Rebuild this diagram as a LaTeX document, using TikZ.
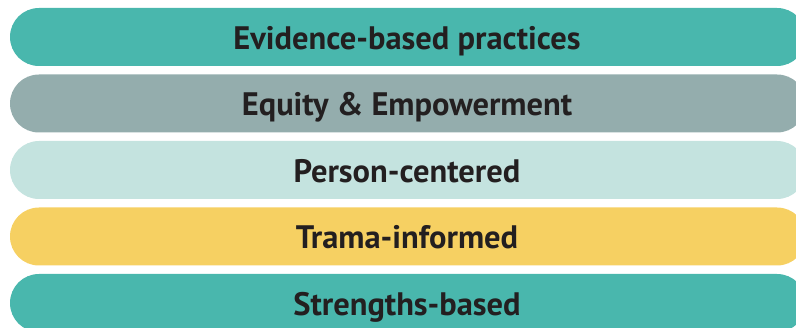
\documentclass[tikz,border=0pt]{standalone}
\usepackage{fontspec}
\setmainfont{PT Sans}
\definecolor{tealbar}{HTML}{49B7AD}
\definecolor{graybar}{HTML}{94ADAD}
\definecolor{mintbar}{HTML}{C4E3DF}
\definecolor{yellowbar}{HTML}{F6D062}
\definecolor{labeltext}{HTML}{231F20}
\begin{document}
\begin{tikzpicture}[x=1pt,y=-1pt,
  pill/.style={rounded corners=28.9pt},
  barlabel/.style={text=labeltext,font=\fontsize{32.5}{36}\selectfont\bfseries,inner sep=0pt,anchor=base}]
\useasboundingbox (0,0) rectangle (796,328);
\clip (0,0) rectangle (796,328);
% five stacked pill-shaped bars, the right ends run past the edge
\foreach \top/\col/\name in {8/tealbar/b1,74.5/graybar/b2,141/mintbar/b3,207.5/yellowbar/b4,274/tealbar/b5}{
  \fill[pill,\col] (10,\top) rectangle (806,\top+58);
  \coordinate (\name) at (407,\top+41.5);
}
\node[barlabel] (t1) at (b1) {Evidence-based practices};
\node[barlabel] (t2) at (b2) {Equity \& Empowerment};
\node[barlabel] (t3) at (b3) {Person-centered};
\node[barlabel] (t4) at (b4) {Trama-informed};
\node[barlabel] (t5) at (b5) {Strengths-based};
\end{tikzpicture}
\end{document}
